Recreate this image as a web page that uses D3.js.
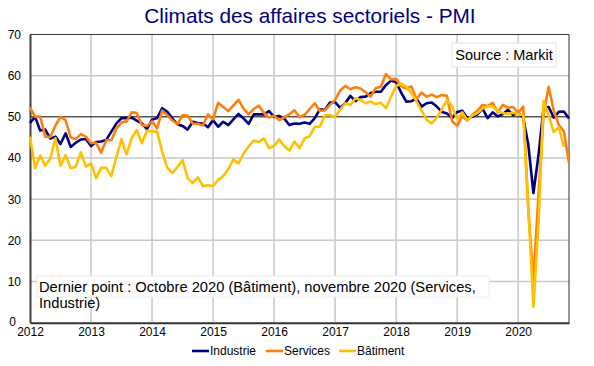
<!DOCTYPE html>
<html>
<head>
<meta charset="utf-8">
<script src="https://cdn.jsdelivr.net/npm/d3@7.9.0/dist/d3.min.js"></script>
<style>
  body { margin: 0; background: #fff; }
  svg { display: block; font-family: "Liberation Sans", Arial, sans-serif; }
</style>
</head>
<body>
<svg id="chart" width="594" height="366"></svg>
<script>
// monthly values, Jan 2012 onwards
const years = [2012, 2013, 2014, 2015, 2016, 2017, 2018, 2019, 2020];
const yTicks = [0, 10, 20, 30, 40, 50, 60, 70];

const industrie = [
  48.5, 50.0, 46.7, 46.9, 44.7, 45.2, 43.4, 46.0, 42.7, 43.7, 44.5, 44.6,
  42.9, 43.9, 44.0, 44.4, 46.4, 48.4, 49.7, 49.7, 49.8, 49.1, 48.4, 47.0,
  49.3, 49.7, 52.1, 51.2, 49.6, 48.2, 47.8, 46.9, 48.8, 48.5, 48.4, 47.5,
  49.2, 47.6, 48.8, 48.0, 49.4, 50.7, 49.6, 48.3, 50.6, 50.6, 50.6, 51.4,
  50.0, 50.2, 49.6, 48.0, 48.4, 48.3, 48.6, 48.3, 49.7, 51.8, 51.7, 53.5,
  53.6, 52.2, 53.3, 55.1, 53.8, 54.8, 54.9, 55.8, 56.1, 56.1, 57.7, 58.8,
  58.4, 55.9, 53.7, 53.8, 54.4, 52.5, 53.3, 53.5, 52.5, 51.2, 50.8, 49.7,
  51.2, 51.5, 49.7, 50.0, 50.6, 52.0, 49.7, 51.1, 50.1, 50.7, 51.7, 50.4,
  51.1, 49.8, 43.2, 31.5, 40.6, 52.3, 52.4, 49.8, 51.2, 51.3, 49.6
];

const services = [
  52.3, 50.0, 50.1, 45.2, 45.1, 47.9, 50.0, 49.2, 45.0, 44.6, 45.8, 45.2,
  43.6, 43.7, 41.3, 44.3, 44.3, 47.2, 48.6, 48.9, 51.1, 50.9, 48.0, 47.8,
  48.9, 47.2, 51.5, 50.4, 49.1, 48.2, 50.4, 50.3, 48.4, 48.3, 47.9, 50.6,
  49.4, 53.4, 52.4, 51.4, 52.8, 54.1, 52.0, 50.6, 51.9, 52.7, 51.0, 49.8,
  50.3, 49.2, 49.9, 50.6, 51.6, 49.9, 50.5, 51.9, 53.3, 51.4, 51.6, 52.9,
  54.1, 56.4, 57.5, 56.7, 57.2, 56.9, 56.0, 54.9, 57.0, 57.3, 60.4, 59.1,
  59.2, 57.4, 56.9, 57.4, 54.3, 55.9, 54.9, 55.4, 54.8, 55.3, 55.1, 49.0,
  47.8, 50.2, 49.1, 50.5, 51.5, 52.9, 52.6, 53.4, 51.1, 52.9, 52.2, 52.4,
  51.0, 52.5, 27.4, 10.2, 31.1, 50.7, 57.3, 51.5, 48.0, 46.5, 38.8
];

const batiment = [
  45.2, 37.5, 40.6, 38.1, 39.9, 44.8, 38.1, 40.7, 37.5, 37.9, 41.4, 37.9,
  38.7, 35.1, 37.6, 37.6, 35.6, 40.3, 44.6, 40.9, 44.8, 46.8, 43.6, 46.6,
  46.5, 46.4, 41.5, 37.6, 36.4, 37.8, 39.5, 35.1, 33.9, 35.3, 33.2, 33.4,
  33.2, 34.7, 35.6, 37.3, 39.7, 38.7, 41.1, 42.8, 44.2, 43.9, 44.8, 42.4,
  42.9, 44.5, 42.9, 41.8, 44.0, 42.4, 44.7, 45.3, 47.6, 47.6, 50.4, 50.4,
  50.0, 51.7, 53.3, 52.9, 54.5, 54.1, 53.3, 53.7, 53.1, 53.4, 52.1, 54.9,
  57.5, 58.1, 57.3, 55.8, 53.8, 51.5, 49.3, 48.4, 49.8, 51.8, 54.1, 52.6,
  49.4, 51.1, 49.2, 50.3, 50.9, 52.0, 52.6, 52.5, 51.4, 50.9, 50.7, 51.0,
  50.7, 50.4, 28.0, 3.9, 24.0, 53.9, 50.3, 46.3, 47.5, 42.7
];

const seriesNames = ['Industrie', 'Services', 'Bâtiment'];
const seriesColors = ['#000080', '#FF7F0E', '#FFC000'];
const seriesData = [industrie, services, batiment];

const title = 'Climats des affaires sectoriels - PMI';
const sourceText = 'Source : Markit';
const noteLines = ['Dernier point : Octobre 2020 (Bâtiment), novembre 2020 (Services,', 'Industrie)'];

const svg = d3.select('#chart');
const plotLeft = 30, plotRight = 569, plotTop = 34.5, plotBottom = 322.7;

const x = d3.scaleLinear().domain([0, industrie.length - 1]).range([plotLeft, plotRight]);
const y = d3.scaleLinear().domain([0, 70]).range([plotBottom, plotTop]);

svg.append('text')
  .attr('x', 310).attr('y', 23)
  .attr('text-anchor', 'middle')
  .attr('font-size', 20.8)
  .attr('fill', '#000080')
  .text(title);

// grid
const grid = svg.append('g');
grid.selectAll('line.h')
  .data(yTicks.filter(d => d > 0 && d < 70 && d !== 50))
  .join('line')
  .attr('x1', plotLeft).attr('x2', plotRight)
  .attr('y1', d => y(d)).attr('y2', d => y(d))
  .attr('stroke', '#c8c8c8').attr('stroke-width', 1.5);
grid.selectAll('line.v')
  .data(years.slice(1))
  .join('line')
  .attr('x1', d => x((d - years[0]) * 12)).attr('x2', d => x((d - years[0]) * 12))
  .attr('y1', plotTop).attr('y2', plotBottom)
  .attr('stroke', '#c8c8c8').attr('stroke-width', 1.5);

// 50 line
svg.append('line')
  .attr('x1', plotLeft).attr('x2', plotRight)
  .attr('y1', y(50)).attr('y2', y(50))
  .attr('stroke', '#000').attr('stroke-width', 1);

// frame
svg.append('line').attr('x1', plotLeft).attr('x2', plotRight).attr('y1', plotTop).attr('y2', plotTop)
  .attr('stroke', '#333').attr('stroke-width', 1);
svg.append('line').attr('x1', plotRight).attr('x2', plotRight).attr('y1', plotTop).attr('y2', plotBottom)
  .attr('stroke', '#333').attr('stroke-width', 1);

// axes
const yAxis = svg.append('g')
  .attr('transform', `translate(${plotLeft},0)`)
  .call(d3.axisLeft(y).tickValues(yTicks).tickSize(0).tickPadding(9));
yAxis.select('.domain').attr('stroke', '#404040').attr('stroke-width', 2);
yAxis.selectAll('text').attr('font-size', 12).attr('fill', '#000')
  .attr('font-family', '"Liberation Sans", Arial, sans-serif');
// the "0" label sits a bit further left, clear of "2012"
yAxis.selectAll('.tick').filter(d => d === 0).select('text').attr('dx', -5).attr('dy', '0.2em');

const xAxis = svg.append('g')
  .attr('transform', `translate(0,${plotBottom})`)
  .call(d3.axisBottom(x).tickValues(years.map(d => (d - years[0]) * 12))
    .tickFormat((d, i) => years[i]).tickSize(0).tickPadding(5));
xAxis.select('.domain').attr('stroke', '#333').attr('stroke-width', 2);
xAxis.selectAll('text').attr('font-size', 12).attr('fill', '#000')
  .attr('font-family', '"Liberation Sans", Arial, sans-serif');

// series
const line = d3.line().x((d, i) => x(i)).y(d => y(d));
seriesData.forEach((data, k) => {
  svg.append('path')
    .datum(data)
    .attr('d', line)
    .attr('fill', 'none')
    .attr('stroke', seriesColors[k])
    .attr('stroke-width', 2.6)
    .attr('stroke-linejoin', 'round');
});

// source box
svg.append('rect')
  .attr('x', 452).attr('y', 43).attr('width', 104).attr('height', 24)
  .attr('fill', '#fff').attr('stroke', '#e4e4e4');
svg.append('text')
  .attr('x', 504).attr('y', 60)
  .attr('text-anchor', 'middle')
  .attr('font-size', 14.5)
  .text(sourceText);

// note box (white only behind first line)
svg.append('rect')
  .attr('x', 37).attr('y', 276).attr('width', 452).attr('height', 21)
  .attr('fill', '#fff').attr('stroke', '#eee');
svg.selectAll('text.note')
  .data(noteLines)
  .join('text')
  .attr('class', 'note')
  .attr('x', 39)
  .attr('y', (d, i) => 292 + i * 15.5)
  .attr('font-size', 14.7)
  .text(d => d);

// legend
const legend = svg.append('g');
const legendX = [192, 266, 339];
seriesNames.forEach((name, k) => {
  legend.append('line')
    .attr('x1', legendX[k]).attr('x2', legendX[k] + 17)
    .attr('y1', 351).attr('y2', 351)
    .attr('stroke', seriesColors[k]).attr('stroke-width', 2.6);
  legend.append('text')
    .attr('x', legendX[k] + 18).attr('y', 355)
    .attr('font-size', 12)
    .text(name);
});
</script>
</body>
</html>
